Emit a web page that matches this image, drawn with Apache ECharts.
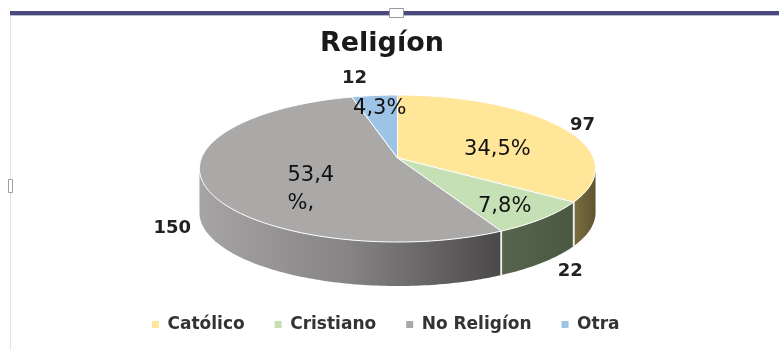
<!DOCTYPE html>
<html><head><meta charset="utf-8">
<style>html,body{margin:0;padding:0;background:#fff}#c{width:779px;height:350px}</style>
<script src="https://cdn.jsdelivr.net/npm/echarts@6/dist/echarts.min.js"></script>
</head><body><div id="c"></div>
<script>
// ---- data ----
const titleText = 'Religíon';
const categories = ['Católico', 'Cristiano', 'No Religíon', 'Otra'];
const values = [97, 22, 150, 12];
const percentLabels = ['34,5%', '7,8%', '53,4\n%,', '4,3%'];

// ---- styles / layout ----
const topColors = ['#FFE699', '#C5E0B4', '#ABA8A8', '#9DC3E6'];
const sideStops = [
  ['#7c6e3f', '#5e542f'],
  ['#56654c', '#4a5842'],
  ['#a6a4a4', '#858383', '#4a4848'],
  ['#7d9fc0', '#5f7f9f']
];
const G = { vx: 397.5, vy: 158, R: 196, b: 72, a: 0.143, depth: 44 };
const pctR = [0.6, 0.75, 0.45, 0.75];
const pctNudge = [[0, 11], [1, 5], [-26, 19], [0, -1]];
const pctAlign = ['center', 'center', 'left', 'center'];
const valR = 1.15;
const valNudge = [[0, 3], [2, 43], [-2, 38], [-17, -9]];

function proj(deg, r) {
  const t = deg * Math.PI / 180, s = Math.sin(t), c = Math.cos(t);
  const w = 1 + G.a * r * c;
  return [G.vx + G.R * r * s / w, G.vy - G.b * r * c / w];
}
const visL = Math.acos(-G.a) * 180 / Math.PI;   // ~98°
const visR = 360 - visL;                         // ~262°

const total = values.reduce((s, v) => s + v, 0);
let acc = 0;
const spans = values.map(v => { const a0 = acc / total * 360; acc += v; return [a0, acc / total * 360]; });

function arcPts(a0, a1, dy) {
  const pts = [], n = Math.max(2, Math.ceil((a1 - a0) / 1));
  for (let k = 0; k <= n; k++) { const p = proj(a0 + (a1 - a0) * k / n, 1); pts.push([p[0], p[1] + (dy || 0)]); }
  return pts;
}

function makeRender(i) {
  return function (params, api) {
    const a0 = api.value(0), a1 = api.value(1);
    const children = [];
    const lo = Math.max(a0, visL), hi = Math.min(a1, visR);
    if (hi > lo) {
      const topArc = arcPts(lo, hi, 0);
      const botArc = arcPts(lo, hi, G.depth).reverse();
      const st = sideStops[i];
      const stops = st.map((c, k) => ({ offset: k / (st.length - 1), color: c }));
      children.push({
        type: 'polygon', shape: { points: topArc.concat(botArc) },
        style: { fill: new echarts.graphic.LinearGradient(0, 0, 1, 0, stops) }, z2: 1
      });
      [a0, a1].forEach(ang => {
        if (ang > visL && ang < visR) {
          const p = proj(ang, 1);
          children.push({ type: 'line', shape: { x1: p[0], y1: p[1], x2: p[0], y2: p[1] + G.depth },
            style: { stroke: '#f4f4f4', lineWidth: 1.5 }, z2: 2 });
        }
      });
    }
    const topPts = [[G.vx, G.vy]].concat(arcPts(a0, a1, 0));
    children.push({
      type: 'polygon', shape: { points: topPts },
      style: { fill: topColors[i], stroke: '#ffffff', lineWidth: 1, lineJoin: 'round' }, z2: 3
    });
    const mid = (a0 + a1) / 2;
    const pp = proj(mid, pctR[i]);
    children.push({
      type: 'text', z2: 100,
      style: {
        text: percentLabels[i], x: pp[0] + pctNudge[i][0], y: pp[1] + pctNudge[i][1],
        align: pctAlign[i], verticalAlign: 'middle', lineHeight: 28,
        fontFamily: 'DejaVu Sans', fontSize: 21, fill: '#111'
      }
    });
    const vp = proj(mid, valR);
    children.push({
      type: 'text', z2: 100,
      style: {
        text: String(api.value(2)), x: vp[0] + valNudge[i][0], y: vp[1] + valNudge[i][1],
        align: 'center', verticalAlign: 'middle',
        fontFamily: 'DejaVu Sans', fontWeight: 'bold', fontSize: 18, fill: '#222'
      }
    });
    return { type: 'group', children };
  };
}

const chart = echarts.init(document.getElementById('c'), null, { renderer: 'canvas' });
chart.setOption({
  animation: false,
  backgroundColor: '#ffffff',
  title: {
    text: titleText, left: 320, top: 30, padding: 0,
    textStyle: { fontFamily: 'DejaVu Sans', fontWeight: 'bold', fontSize: 27, color: '#1a1a1a' }
  },
  legend: {
    data: categories, left: 152, top: 316, padding: 0,
    itemWidth: 14, itemHeight: 7, itemGap: 30, icon: 'path://M0,0h1v1h-1z',
    textStyle: { fontFamily: 'DejaVu Sans', fontWeight: 'bold', fontSize: 17, color: '#333' }
  },
  graphic: [
    { type: 'rect', shape: { x: 10, y: 11, width: 769, height: 4 }, style: { fill: '#4b4a7e' } },
    { type: 'rect', shape: { x: 10, y: 15, width: 769, height: 1 }, style: { fill: '#b9b9cf' } },
    { type: 'rect', shape: { x: 389.5, y: 8.5, width: 14, height: 9 }, style: { fill: '#fff', stroke: '#9a9a9a', lineWidth: 1 } },
    { type: 'line', shape: { x1: 10.5, y1: 16, x2: 10.5, y2: 350 }, style: { stroke: '#e2e2e2', lineWidth: 1 } },
    { type: 'rect', shape: { x: 8.5, y: 179.5, width: 4, height: 13 }, style: { fill: '#fff', stroke: '#a0a0a0', lineWidth: 1 } }
  ],
  series: categories.map((name, i) => ({
    type: 'custom', name, coordinateSystem: 'none',
    itemStyle: { color: topColors[i] },
    data: [[spans[i][0], spans[i][1], values[i]]],
    renderItem: makeRender(i)
  }))
});
</script></body></html>
